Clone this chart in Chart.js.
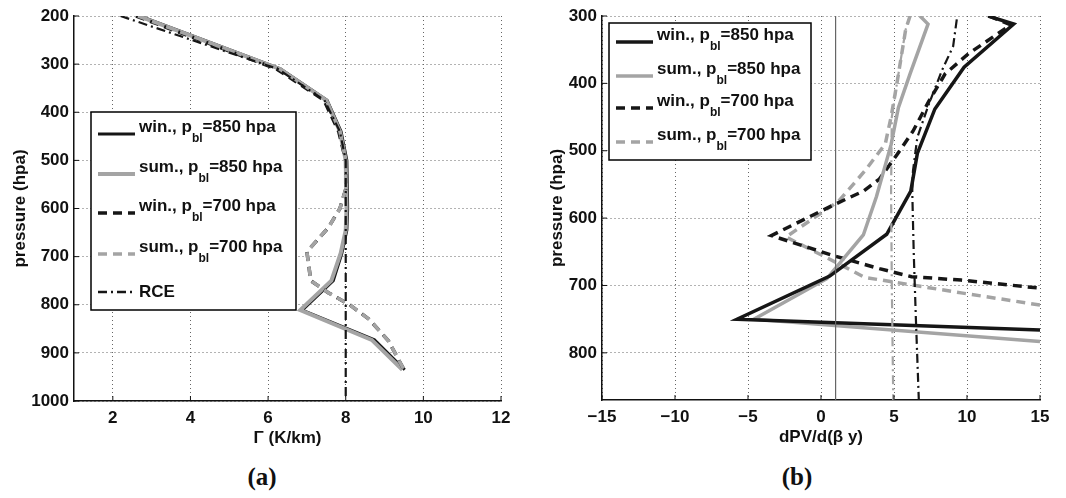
<!DOCTYPE html>
<html>
<head>
<meta charset="utf-8">
<script src="https://cdn.jsdelivr.net/npm/chart.js@4.4.1/dist/chart.umd.min.js"></script>
<style>
  body { margin: 0; background: #fff; width: 1066px; height: 498px; position: relative; overflow: hidden; }
  .caixa { position: absolute; top: 0; height: 460px; }
  #caixaA { left: 0; width: 521px; }
  #caixaB { left: 537px; width: 523px; }
  .rotulo { position: absolute; top: 463px; line-height: 30px; font: bold 25px "Liberation Serif", "Times New Roman", serif; transform: translateX(-50%); color: #111; }
</style>
</head>
<body>
<div class="caixa" id="caixaA"><canvas id="graficoA"></canvas></div>
<div class="caixa" id="caixaB"><canvas id="graficoB"></canvas></div>
<div class="rotulo" style="left:262px">(a)</div>
<div class="rotulo" style="left:797px">(b)</div>
<script>
// legend text and ticks
const seriesLabels = ['win., p_bl=850 hpa', 'sum., p_bl=850 hpa', 'win., p_bl=700 hpa', 'sum., p_bl=700 hpa', 'RCE'];
const xTicksA = [2, 4, 6, 8, 10, 12];
const yTicksA = [200, 300, 400, 500, 600, 700, 800, 900, 1000];
const xTicksB = [-15, -10, -5, 0, 5, 10, 15];
const yTicksB = [300, 400, 500, 600, 700, 800];

// (a) lapse rate profiles, K/km vs hPa
const pA850 = [200, 310, 375, 440, 500, 600, 645, 693, 750, 811, 873, 935];
const gamWin850 = [2.7, 6.32, 7.52, 7.88, 8.03, 8.05, 8.03, 7.9, 7.68, 6.88, 8.74, 9.52];
const gamSum850 = [2.65, 6.3, 7.5, 7.85, 8.0, 8.02, 8.0, 7.87, 7.63, 6.83, 8.67, 9.46];
const pA700 = [200, 310, 375, 440, 500, 560, 600, 640, 690, 750, 775, 800, 830, 875, 935];
const gamWin700 = [2.6, 6.22, 7.44, 7.82, 8.0, 8.0, 7.85, 7.55, 7.0, 7.1, 7.55, 8.1, 8.6, 9.1, 9.5];
const gamSum700 = [2.65, 6.3, 7.5, 7.85, 8.0, 8.0, 7.85, 7.55, 7.0, 7.1, 7.55, 8.1, 8.6, 9.1, 9.5];
const pRCE = [200, 310, 375, 440, 500, 1000];
const gamRCE = [2.2, 6.25, 7.45, 7.85, 8.0, 8.0];

// (b) dPV/d(beta y) profiles
const pBWin850 = [300, 312, 376, 438, 504, 560, 624, 686, 750, 766];
const dpvWin850 = [11.45, 13.2, 9.8, 7.8, 6.6, 6.15, 4.5, 0.6, -5.75, 15];
const pBSum850 = [300, 312, 386, 436, 491, 568, 625, 690, 750, 783];
const dpvSum850 = [6.78, 7.33, 6.1, 5.3, 4.8, 3.8, 2.9, 0.4, -4.6, 15];
const pBWin700 = [300, 313, 356, 386, 426, 471, 506, 542, 560, 580, 626, 656, 675, 687, 692, 704];
const dpvWin700 = [11.5, 13.0, 10.1, 8.5, 7.4, 6.3, 5.2, 4.0, 2.9, 0.9, -3.4, 0.9, 4.0, 6.2, 9.6, 15];
const pBSum700 = [300, 320, 400, 450, 490, 530, 575, 628, 660, 688, 695, 711, 729];
const dpvSum700 = [6.1, 5.8, 5.2, 4.8, 4.4, 3.0, 1.2, -2.4, 0.5, 3.0, 5.0, 9.6, 15];
const pBWinRef = [305, 345, 380, 430, 480, 530, 560, 650, 750, 870];
const dpvWinRef = [9.3, 9.05, 8.3, 7.4, 6.6, 6.3, 6.25, 6.35, 6.5, 6.7];
const pBSumRef = [300, 320, 400, 450, 560, 700, 870];
const dpvSumRef = [6.1, 5.8, 5.2, 4.85, 4.8, 4.85, 4.95];
const refLineX = [1, 1];
const refLineP = [300, 870];

const PRETO = '#161616';
const CINZA = '#a4a4a4';
const FONTE = '"Liberation Sans", Arial, Helvetica, sans-serif';

Chart.defaults.font.family = FONTE;
Chart.defaults.font.weight = 'bold';
Chart.defaults.font.size = 17;
Chart.defaults.color = '#111';

function serie(xs, ps) {
    return xs.map((x, i) => ({ x: x, y: ps[i] }));
}

function linha(label, xs, ps, cor, largura, traco, ordem) {
    return {
        label: label,
        data: serie(xs, ps),
        showLine: true,
        borderColor: cor,
        backgroundColor: cor,
        borderWidth: largura,
        borderDash: traco,
        pointRadius: 0,
        order: ordem
    };
}

function menos(v) {
    return v < 0 ? '\u2212' + Math.abs(v) : String(v);
}

// label with "_bl" subscript
function desenhaTexto(ctx, texto, x, y) {
    const partes = texto.split('_bl');
    ctx.fillStyle = '#111';
    ctx.textBaseline = 'middle';
    ctx.textAlign = 'left';
    if (partes.length === 1) {
        ctx.font = 'bold 17px ' + FONTE;
        ctx.fillText(texto, x, y);
        return;
    }
    ctx.font = 'bold 17px ' + FONTE;
    ctx.fillText(partes[0], x, y - 7);
    let px = x + ctx.measureText(partes[0]).width;
    ctx.font = 'bold 12px ' + FONTE;
    ctx.fillText('bl', px, y + 5);
    px += ctx.measureText('bl').width;
    ctx.font = 'bold 17px ' + FONTE;
    ctx.fillText(partes[1], px, y - 7);
}

const legendaCaixa = {
    id: 'legendaCaixa',
    afterDraw(chart, args, o) {
        const ctx = chart.ctx;
        ctx.save();
        ctx.fillStyle = '#fff';
        ctx.fillRect(o.left, o.top, o.width, o.height);
        ctx.lineWidth = 1.5;
        ctx.strokeStyle = '#000';
        ctx.setLineDash([]);
        ctx.strokeRect(o.left, o.top, o.width, o.height);
        o.rows.forEach((ry, i) => {
            const ds = chart.data.datasets[i];
            ctx.beginPath();
            ctx.setLineDash(ds.borderDash || []);
            ctx.lineWidth = Math.max(ds.borderWidth, 2.5);
            ctx.strokeStyle = ds.borderColor;
            ctx.moveTo(o.left + 7, o.top + ry);
            ctx.lineTo(o.left + 44, o.top + ry);
            ctx.stroke();
            ctx.setLineDash([]);
            desenhaTexto(ctx, ds.label, o.left + 48, o.top + ry);
        });
        ctx.restore();
    }
};

// inward tick marks on left and bottom axes
const marcas = {
    id: 'marcas',
    afterDatasetsDraw(chart) {
        const ctx = chart.ctx;
        const a = chart.chartArea;
        ctx.save();
        ctx.strokeStyle = '#111';
        ctx.lineWidth = 1;
        ctx.beginPath();
        chart.scales.x.ticks.forEach(t => {
            const px = chart.scales.x.getPixelForValue(t.value);
            ctx.moveTo(px, a.bottom);
            ctx.lineTo(px, a.bottom - 5);
        });
        chart.scales.y.ticks.forEach(t => {
            const py = chart.scales.y.getPixelForValue(t.value);
            ctx.moveTo(a.left, py);
            ctx.lineTo(a.left + 5, py);
        });
        ctx.stroke();
        ctx.restore();
    }
};

function opcoes(cfg) {
    return {
        responsive: true,
        maintainAspectRatio: false,
        animation: false,
        layout: { padding: { top: 16, right: 20, bottom: 0, left: 0 } },
        plugins: {
            legend: { display: false },
            tooltip: { enabled: false },
            legendaCaixa: cfg.legenda
        },
        scales: {
            x: {
                type: 'linear',
                min: cfg.xMin,
                max: cfg.xMax,
                afterBuildTicks: s => { s.ticks = cfg.xTicks.map(v => ({ value: v })); },
                afterFit: s => { s.height = cfg.xAltura; },
                ticks: { padding: 7, callback: v => menos(v), maxRotation: 0, autoSkip: false },
                grid: { color: '#666', lineWidth: 1, drawTicks: false },
                border: { display: true, color: '#111', width: 1.5, dash: [1, 3] },
                title: { display: true, text: cfg.xTitulo, padding: { top: 0, bottom: cfg.xTituloPad } }
            },
            y: {
                type: 'linear',
                reverse: true,
                min: cfg.yMin,
                max: cfg.yMax,
                afterBuildTicks: s => { s.ticks = cfg.yTicks.map(v => ({ value: v })); },
                afterFit: s => { s.width = cfg.yLargura; },
                ticks: { padding: 5, autoSkip: false, callback: v => String(v) },
                grid: { color: '#666', lineWidth: 1, drawTicks: false },
                border: { display: true, color: '#111', width: 1.5, dash: [1, 3] },
                title: { display: true, text: 'pressure (hpa)', padding: { top: 10, bottom: 0 } }
            }
        }
    };
}

const tracejado = [9, 6];
const tracoPonto = [9, 4, 2, 4];

new Chart(document.getElementById('graficoA'), {
    type: 'scatter',
    data: {
        datasets: [
            linha(seriesLabels[0], gamWin850, pA850, PRETO, 3, [], 4),
            linha(seriesLabels[1], gamSum850, pA850, CINZA, 4, [], 3),
            linha(seriesLabels[2], gamWin700, pA700, PRETO, 3.5, tracejado, 2),
            linha(seriesLabels[3], gamSum700, pA700, CINZA, 3.5, tracejado, 1),
            linha(seriesLabels[4], gamRCE, pRCE, PRETO, 2.2, tracoPonto, 0)
        ]
    },
    options: opcoes({
        xMin: 1, xMax: 12, xTicks: xTicksA, xAltura: 59, xTitulo: '\u0393 (K/km)', xTituloPad: 11,
        yMin: 200, yMax: 1000, yTicks: yTicksA, yLargura: 74,
        legenda: { left: 91, top: 112, width: 205, height: 198, rows: [22, 62, 101, 142, 180] }
    }),
    plugins: [legendaCaixa, marcas]
});

new Chart(document.getElementById('graficoB'), {
    type: 'scatter',
    data: {
        datasets: [
            linha(seriesLabels[0], dpvWin850, pBWin850, PRETO, 3.5, [], 2),
            linha(seriesLabels[1], dpvSum850, pBSum850, CINZA, 3.5, [], 3),
            linha(seriesLabels[2], dpvWin700, pBWin700, PRETO, 3.5, tracejado, 4),
            linha(seriesLabels[3], dpvSum700, pBSum700, CINZA, 3.5, tracejado, 5),
            linha('', dpvWinRef, pBWinRef, PRETO, 2.2, tracoPonto, 1),
            linha('', dpvSumRef, pBSumRef, CINZA, 2.2, tracoPonto, 1),
            linha('', refLineX, refLineP, '#666', 1.2, [], 0)
        ]
    },
    options: opcoes({
        xMin: -15, xMax: 15, xTicks: xTicksB, xAltura: 60, xTitulo: 'dPV/d(\u03B2 y)', xTituloPad: 12,
        yMin: 300, yMax: 870, yTicks: yTicksB, yLargura: 65,
        legenda: { left: 72, top: 23, width: 202, height: 137, rows: [19, 53, 85, 119] }
    }),
    plugins: [legendaCaixa, marcas]
});
</script>
</body>
</html>
